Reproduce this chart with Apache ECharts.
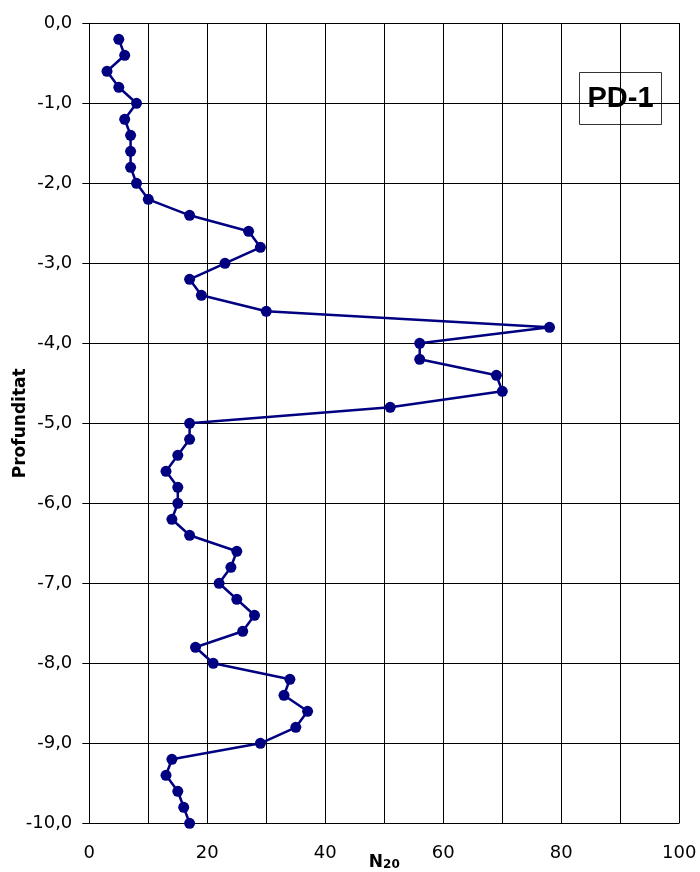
<!DOCTYPE html>
<html>
<head>
<meta charset="utf-8">
<script src="https://cdn.jsdelivr.net/npm/echarts@6/dist/echarts.min.js"></script>
<style>
html,body{margin:0;padding:0;background:#fff;}
#chart{width:700px;height:872px;}
</style>
</head>
<body>
<div id="chart"></div>
<script>
// Depth (m) and N20 blow counts
var depths = [-0.2,-0.4,-0.6,-0.8,-1.0,-1.2,-1.4,-1.6,-1.8,-2.0,
              -2.2,-2.4,-2.6,-2.8,-3.0,-3.2,-3.4,-3.6,-3.8,-4.0,
              -4.2,-4.4,-4.6,-4.8,-5.0,-5.2,-5.4,-5.6,-5.8,-6.0,
              -6.2,-6.4,-6.6,-6.8,-7.0,-7.2,-7.4,-7.6,-7.8,-8.0,
              -8.2,-8.4,-8.6,-8.8,-9.0,-9.2,-9.4,-9.6,-9.8,-10.0];
var n20 = [5,6,3,5,8,6,7,7,7,8,
           10,17,27,29,23,17,19,30,78,56,
           56,69,70,51,17,17,15,13,15,15,
           14,17,25,24,22,25,28,26,18,21,
           34,33,37,35,29,14,13,15,16,17];
var xTicks = [0,20,40,60,80,100];
var yTicks = [0,-1,-2,-3,-4,-5,-6,-7,-8,-9,-10];
var boxLabel = 'PD-1';
var xName = 'N';
var xSub = '20';
var yName = 'Profunditat';

var pts = depths.map(function(d,i){ return [n20[i], d]; });

var chart = echarts.init(document.getElementById('chart'), null, {renderer:'canvas'});
chart.setOption({
  animation:false,
  backgroundColor:'#fff',
  grid:{left:89.3, right:20.7, top:23.3, bottom:48.7, containLabel:false, outerBoundsMode:'none'},
  xAxis:{
    type:'value', min:xTicks[0], max:xTicks[xTicks.length-1], interval:20,
    axisLine:{show:true, lineStyle:{color:'#000', width:1}},
    axisTick:{show:true, length:6, lineStyle:{color:'#000'}},
    axisLabel:{margin:21, fontFamily:'DejaVu Sans', fontSize:18, color:'#000'},
    splitLine:{show:true, lineStyle:{color:'#000', width:1}},
    minorTick:{show:false, splitNumber:2},
    minorSplitLine:{show:true, lineStyle:{color:'#000', width:1}},
    name:'{a|' + xName + '}{b|' + xSub + '}',
    nameLocation:'middle', nameGap:31, nameMoveOverlap:false,
    nameTextStyle:{
      rich:{
        a:{fontFamily:'DejaVu Sans', fontWeight:'bold', fontSize:17, lineHeight:17, verticalAlign:'top', color:'#000'},
        b:{fontFamily:'DejaVu Sans', fontWeight:'bold', fontSize:12, lineHeight:12, verticalAlign:'bottom', padding:[8,0,0,0], color:'#000'}
      }
    }
  },
  yAxis:{
    type:'value', min:yTicks[yTicks.length-1], max:yTicks[0], interval:1,
    axisLine:{show:true, onZero:false, lineStyle:{color:'#000', width:1}},
    axisTick:{show:true, length:7, lineStyle:{color:'#000'}},
    axisLabel:{margin:17, fontFamily:'DejaVu Sans', fontSize:18, color:'#000',
      formatter:function(v){ var s=(Math.abs(v)<1e-9?0:v).toFixed(1); return s.replace('.', ','); }},
    splitLine:{show:true, lineStyle:{color:'#000', width:1}},
    name:yName, nameLocation:'middle', nameGap:60, nameMoveOverlap:false,
    nameTextStyle:{fontFamily:'DejaVu Sans', fontWeight:'bold', fontSize:17, color:'#000'}
  },
  series:[{
    type:'line', data:pts,
    symbol:'circle', symbolSize:11,
    lineStyle:{color:'#000080', width:2.5},
    itemStyle:{color:'#000080'},
    clip:false
  }],
  graphic:[{
    type:'group', left:579, top:72,
    children:[
      {type:'rect', shape:{x:0.5,y:0.5,width:82,height:52}, style:{fill:'#fff', stroke:'#333', lineWidth:1}},
      {type:'text', x:41.5, y:27, style:{text:boxLabel, fontFamily:'Liberation Sans', fontWeight:'bold', fontSize:29, fill:'#000', align:'center', verticalAlign:'middle'}}
    ]
  }]
});
</script>
</body>
</html>
